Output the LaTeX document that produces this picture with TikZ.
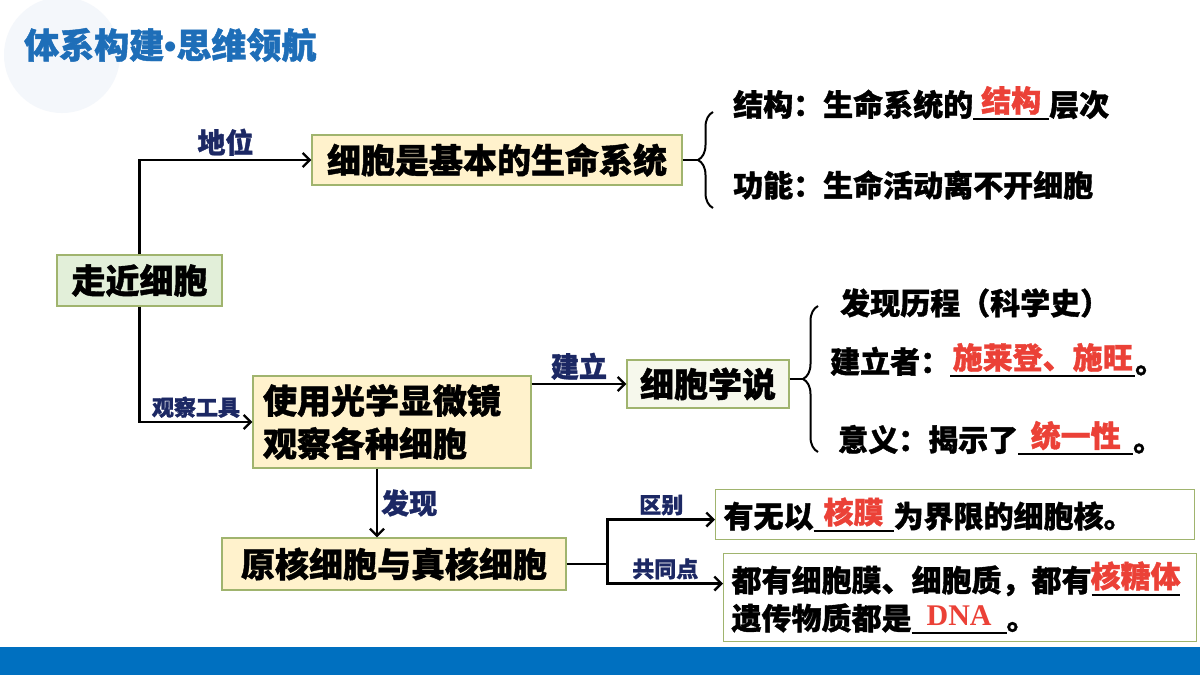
\documentclass[tikz,border=0pt]{standalone}
\usepackage{fontspec}
\setmainfont{Noto Sans CJK SC}[BoldFeatures={FakeBold=1.2}]
\newfontfamily\dnafont{Liberation Serif}
\newfontfamily\dotfont{Liberation Sans}
\usetikzlibrary{arrows.meta,positioning,decorations.pathreplacing}
\definecolor{titleblue}{RGB}{30,110,184}
\definecolor{barblue}{RGB}{0,112,192}
\definecolor{labnavy}{RGB}{28,40,100}
\definecolor{fillred}{RGB}{235,65,55}
\definecolor{boxline}{RGB}{160,180,110}
\definecolor{greenfill}{RGB}{226,239,217}
\definecolor{yellowfill}{RGB}{255,242,204}
\definecolor{palefill}{RGB}{246,248,236}
\definecolor{haloblue}{RGB}{244,247,251}
% blank with the answer written above the line
\newcommand{\fillblank}[2]{\rlap{\rule[-4pt]{#1}{1.8pt}}\makebox[#1][c]{\raisebox{4pt}{\textcolor{fillred}{#2}}}}

\begin{document}
\begin{tikzpicture}[x=1pt,y=-1pt,
  box/.style={draw=boxline,line width=1.2pt,inner sep=0pt,font=\bfseries\fontsize{34}{43}\selectfont},
  greenbox/.style={box,fill=greenfill},
  yellowbox/.style={box,fill=yellowfill},
  whitebox/.style={draw=boxline,line width=1.2pt,fill=white,inner sep=8pt,anchor=west,align=left,font=\bfseries\fontsize{30}{38}\selectfont},
  item/.style={anchor=west,inner sep=0pt,font=\bfseries\fontsize{30}{36}\selectfont},
  lab/.style={text=labnavy,inner sep=3pt,font=\bfseries\fontsize{28}{30}\selectfont},
  smalllab/.style={lab,font=\bfseries\fontsize{22}{26}\selectfont},
  arr/.style={-{Straight Barb[length=7pt,width=14pt]},line width=2.4pt},
  link/.style={line width=2.4pt},
  curly/.style={decorate,decoration={brace,amplitude=15pt},line width=2pt}]
  \useasboundingbox (0,0) rectangle (1200,675);
  \fill[white] (0,0) rectangle (1200,675);
  \fill[haloblue] (62,55) circle (58pt);
  \fill[barblue] (0,647) rectangle (1200,675);
  \node[anchor=west,inner sep=0pt,text=titleblue,font=\bfseries\fontsize{35}{38}\selectfont] (title) at (24,45) {体系构建{\dotfont\textbullet}思维领航};

  % boxes
  \node[greenbox,minimum width=165pt,minimum height=51pt] (cell) at (139.5,280.5) {走近细胞};
  \node[yellowbox,minimum width=370pt,minimum height=50pt] (system) at (497,160) {细胞是基本的生命系统};
  \node[yellowbox,minimum width=278pt,minimum height=92pt,text width=258pt,align=left] (micro) at (392,422) {使用光学显微镜\\观察各种细胞};
  \node[box,fill=palefill,minimum width=162pt,minimum height=48pt] (theory) at (708,384) {细胞学说};
  \node[yellowbox,minimum width=344pt,minimum height=52pt] (kinds) at (394,564) {原核细胞与真核细胞};
  \node[whitebox,minimum width=479pt,minimum height=45pt,text width=463pt] (differ) at (715,514.5) {有无以\fillblank{80pt}{核膜}为界限的细胞核。};
  \node[whitebox,minimum width=473pt,minimum height=81pt,text width=457pt] (common) at (723,597.5) {都有细胞膜、细胞质，都有\fillblank{88pt}{核糖体}\\遗传物质都是\fillblank{95pt}{\dnafont DNA}。};

  % right-hand items
  \node[item] (struct) at (733,103) {结构：生命系统的\fillblank{76pt}{结构}层次};
  \node[item] (func) at (733,185) {功能：生命活动离不开细胞};
  \node[item] (history) at (840,303) {发现历程（科学史）};
  \node[item] (founder) at (830,360) {建立者：\fillblank{185pt}{施莱登、施旺}。};
  \node[item] (meaning) at (838,438) {意义：揭示了\fillblank{115pt}{统一性}。};

  % braces
  \draw[curly] (713,208) -- (713,112);
  \coordinate (tip1) at (698,160);
  \draw[link] (system.east) -- (tip1);
  \draw[curly] (818,452) -- (818,306);
  \coordinate (tip2) at (803,379);
  \draw[link] (tip2 -| theory.east) -- (tip2);

  % connectors
  \draw[arr] (cell.north) |- node[lab,above,pos=0.75]{地位} (system.west);
  \draw[arr] (cell.south) |- node[smalllab,above,pos=0.75]{观察工具} (micro.west);
  \draw[arr] (micro.east |- theory.west) -- node[lab,above]{建立} (theory.west);
  \draw[arr] ([xshift=-15pt]micro.south) -- node[lab,right]{发现} ([xshift=-15pt]micro.south |- kinds.north);
  \coordinate (split) at ([xshift=41pt]kinds.east);
  \draw[link] (kinds.east) -- (split);
  \draw[arr] (split) |- node[smalllab,above,pos=0.75]{区别} ([yshift=-5pt]differ.west);
  \draw[arr] (split) |- node[smalllab,above,pos=0.75]{共同点} ([yshift=14pt]common.west);
\end{tikzpicture}
\end{document}
